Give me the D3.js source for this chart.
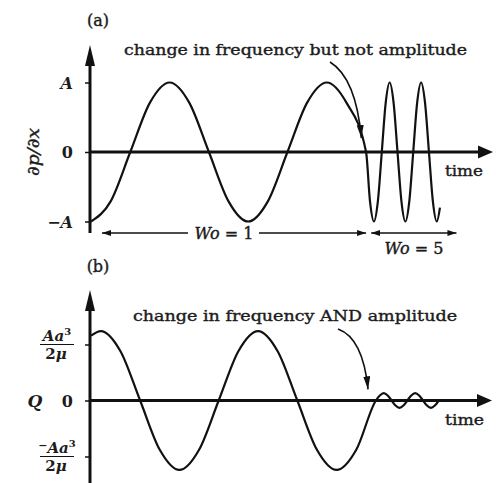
<!DOCTYPE html>
<html>
<head>
<meta charset="utf-8">
<script src="https://cdnjs.cloudflare.com/ajax/libs/d3/7.8.5/d3.min.js"></script>
<style>
  body { margin: 0; background: #fff; }
  svg { display: block; }
  text { font-family: "DejaVu Serif", serif; fill: #1c1c1c; }
  text.heavy { stroke: #1c1c1c; stroke-width: 0.4px; }
</style>
</head>
<body>
<svg width="496" height="483"></svg>
<script>
// (a) dp/dx : Wo = 1 for t in [0,7], then Wo = 5 (time in quarter periods of Wo = 1)
var timeA = [0, 0.5, 1, 1.5, 2, 2.5, 3, 3.5, 4, 4.5, 5, 5.5, 6, 6.5, 7,
  7.1, 7.2, 7.3, 7.4, 7.5, 7.6, 7.7, 7.8, 7.9, 8.0, 8.1, 8.2, 8.3, 8.4, 8.5, 8.6, 8.7, 8.8, 8.88];
var dpdx = [-1, -0.71, 0, 0.71, 1, 0.71, 0, -0.71, -1, -0.71, 0, 0.71, 1, 0.71, 0,
  -0.71, -1, -0.71, 0, 0.71, 1, 0.71, 0, -0.71, -1, -0.71, 0, 0.71, 1, 0.71, 0, -0.71, -1, -0.8];

// (b) Q : big swing, then small fast wiggle (units of Aa^3/2mu)
var timeB = [0, 0.25, 0.75, 1.25, 1.75, 2.25, 2.75, 3.25, 3.75, 4.25, 4.75, 5.25, 5.75, 6.25, 6.75, 7.25,
  7.35, 7.45, 7.55, 7.65, 7.75, 7.85, 7.95, 8.05, 8.15, 8.25, 8.35, 8.45, 8.55, 8.65, 8.75, 8.85];
var qVals = [1.16, 1.24, 0.88, 0, -0.88, -1.24, -0.88, 0, 0.88, 1.24, 0.88, 0, -0.88, -1.24, -0.88, 0,
  0.09, 0.13, 0.09, 0, -0.09, -0.13, -0.09, 0, 0.09, 0.13, 0.09, 0, -0.09, -0.13, -0.09, 0];

var ticksA = [1, 0, -1];
var tickLabelsA = ["A", "0", "\u2212A"];
var ticksB = [1, 0, -1];
var notes = ["change in frequency but not amplitude", "change in frequency AND amplitude"];
var spanLabels = ["Wo = 1", "Wo = 5"];
var spanTimes = [[0.28, 7.0], [7.13, 9.3]];

var svg = d3.select("svg");

var x = d3.scaleLinear().domain([0, 10.23]).range([91, 493]);
var yA = d3.scaleLinear().domain([-1, 1]).range([221.5, 82.5]);
var yB = d3.scaleLinear().domain([-1, 1]).range([456.5, 344.5]);

var defs = svg.append("defs");
defs.append("marker")
  .attr("id", "head")
  .attr("markerUnits", "userSpaceOnUse")
  .attr("markerWidth", 14).attr("markerHeight", 8)
  .attr("refX", 13).attr("refY", 3.5)
  .attr("orient", "auto")
  .append("path").attr("d", "M0,0 L13,3.5 L0,7 Z").attr("fill", "#111");
defs.append("marker")
  .attr("id", "dim")
  .attr("markerUnits", "userSpaceOnUse")
  .attr("markerWidth", 10).attr("markerHeight", 8)
  .attr("refX", 9).attr("refY", 3)
  .attr("orient", "auto-start-reverse")
  .append("path").attr("d", "M0,0 L9,3 L0,6 Z").attr("fill", "#111");

function drawAxes(y, yBottom, yTip, xTip) {
  var x0 = x(0) - 1;
  // vertical axis
  svg.append("line")
    .attr("x1", x0).attr("x2", x0)
    .attr("y1", yBottom).attr("y2", yTip + 16)
    .attr("stroke", "#111").attr("stroke-width", 3);
  svg.append("path")
    .attr("d", "M" + x0 + "," + yTip + " L" + (x0 - 5) + "," + (yTip + 21) + " L" + (x0 + 5) + "," + (yTip + 21) + " Z")
    .attr("fill", "#111");
  // horizontal axis
  var y0 = y(0);
  svg.append("line")
    .attr("x1", x0).attr("x2", xTip - 12)
    .attr("y1", y0).attr("y2", y0)
    .attr("stroke", "#111").attr("stroke-width", 3);
  svg.append("path")
    .attr("d", "M" + xTip + "," + y0 + " L" + (xTip - 15) + "," + (y0 - 6.5) + " L" + (xTip - 15) + "," + (y0 + 6.5) + " Z")
    .attr("fill", "#111");
}

function curve(times, vals, y) {
  var line = d3.line()
    .x(function (d, i) { return x(times[i]); })
    .y(function (d) { return y(d); })
    .curve(d3.curveMonotoneX);
  svg.append("path")
    .attr("d", line(vals))
    .attr("fill", "none")
    .attr("stroke", "#111")
    .attr("stroke-width", 2.2);
}

// ---------- panel (a)
svg.append("text").attr("class", "heavy").attr("x", 98).attr("y", 26).attr("text-anchor", "middle")
  .style("font-size", "16px").text("(a)");

drawAxes(yA, 233, 45, 493);

svg.append("g")
  .attr("transform", "translate(" + (x(0) - 1) + ",0)")
  .call(d3.axisLeft(yA).tickValues(ticksA).tickSize(5).tickFormat(""))
  .call(function (g) { g.select(".domain").remove(); })
  .selectAll("line").attr("stroke", "#111").attr("stroke-width", 1.5);

svg.selectAll(".lblA")
  .data(ticksA)
  .enter().append("text")
  .attr("class", "lblA")
  .attr("x", 73)
  .attr("y", function (d) { return yA(d) + 6; })
  .attr("text-anchor", "end")
  .style("font-size", "16px")
  .style("font-weight", "bold")
  .style("font-style", function (d, i) { return i === 1 ? "normal" : "italic"; })
  .text(function (d, i) { return tickLabelsA[i]; });

svg.append("text")
  .attr("class", "heavy")
  .attr("transform", "translate(39," + yA(0) + ") rotate(-90)")
  .attr("text-anchor", "middle")
  .attr("textLength", 48).attr("lengthAdjust", "spacingAndGlyphs")
  .style("font-size", "17px").style("font-style", "italic")
  .text("\u2202p/\u2202x");

curve(timeA, dpdx, yA);

svg.append("text").attr("class", "heavy").attr("x", 124).attr("y", 55)
  .attr("textLength", 343).attr("lengthAdjust", "spacingAndGlyphs")
  .style("font-size", "15.5px").text(notes[0]);

svg.append("path")
  .attr("d", "M330,62 Q356,78 " + x(6.88) + "," + yA(0.2))
  .attr("fill", "none").attr("stroke", "#111").attr("stroke-width", 1.6)
  .attr("marker-end", "url(#head)");

svg.append("text").attr("class", "heavy").attr("x", 445).attr("y", 176)
  .attr("textLength", 38).attr("lengthAdjust", "spacingAndGlyphs")
  .style("font-size", "15.5px").text("time");

// span arrows under panel (a)
var spanY = 233;
svg.append("line")
  .attr("x1", 188).attr("x2", x(spanTimes[0][0]))
  .attr("y1", spanY).attr("y2", spanY)
  .attr("stroke", "#111").attr("stroke-width", 1.3).attr("marker-end", "url(#dim)");
svg.append("line")
  .attr("x1", 259).attr("x2", x(spanTimes[0][1]))
  .attr("y1", spanY).attr("y2", spanY)
  .attr("stroke", "#111").attr("stroke-width", 1.3).attr("marker-end", "url(#dim)");
svg.append("line")
  .attr("x1", x(spanTimes[1][0])).attr("x2", x(spanTimes[1][1]))
  .attr("y1", spanY).attr("y2", spanY)
  .attr("stroke", "#111").attr("stroke-width", 1.3)
  .attr("marker-start", "url(#dim)").attr("marker-end", "url(#dim)");

function spanText(label, cx, cy) {
  var t = svg.append("text").attr("class", "heavy").attr("x", cx).attr("y", cy).attr("text-anchor", "middle")
    .style("font-size", "16px");
  var parts = label.split(" = ");
  t.append("tspan").style("font-style", "italic").text(parts[0]);
  t.append("tspan").text(" = " + parts[1]);
}
spanText(spanLabels[0], 224, 239);
spanText(spanLabels[1], 414, 254);

// ---------- panel (b)
svg.append("text").attr("class", "heavy").attr("x", 98).attr("y", 272).attr("text-anchor", "middle")
  .style("font-size", "16px").text("(b)");

drawAxes(yB, 483, 290, 492);

svg.append("g")
  .attr("transform", "translate(" + (x(0) - 1) + ",0)")
  .call(d3.axisLeft(yB).tickValues(ticksB).tickSize(5).tickFormat(""))
  .call(function (g) { g.select(".domain").remove(); })
  .selectAll("line").attr("stroke", "#111").attr("stroke-width", 1.5);

// fraction labels  Aa^3 / 2mu
function fraction(yv, neg) {
  var cy = yB(yv);
  var num = svg.append("text").attr("x", 57).attr("y", cy - 4).attr("text-anchor", "middle")
    .style("font-size", "15px").style("font-weight", "bold").style("font-style", "italic");
  if (neg) num.append("tspan").style("font-style", "normal").style("font-size", "11px").attr("dy", -4).text("\u2212");
  num.append("tspan").attr("dy", neg ? 4 : 0).text("Aa");
  num.append("tspan").style("font-size", "10px").style("font-style", "normal").attr("dy", -6).text("3");
  svg.append("line")
    .attr("x1", 40).attr("x2", 74).attr("y1", cy).attr("y2", cy)
    .attr("stroke", "#111").attr("stroke-width", 1.2);
  svg.append("text").attr("x", 56).attr("y", cy + 14).attr("text-anchor", "middle")
    .style("font-size", "15px").style("font-weight", "bold")
    .text("2").append("tspan").style("font-style", "italic").text("\u03bc");
}
fraction(ticksB[0], false);
fraction(ticksB[2], true);

svg.append("text").attr("x", 73).attr("y", yB(0) + 6).attr("text-anchor", "end")
  .style("font-size", "16px").style("font-weight", "bold").text("0");
svg.append("text").attr("x", 35).attr("y", yB(0) + 6).attr("text-anchor", "middle")
  .style("font-size", "17px").style("font-weight", "bold").style("font-style", "italic").text("Q");

curve(timeB, qVals, yB);

svg.append("text").attr("class", "heavy").attr("x", 133).attr("y", 321)
  .attr("textLength", 324).attr("lengthAdjust", "spacingAndGlyphs")
  .style("font-size", "15.5px").text(notes[1]);

svg.append("path")
  .attr("d", "M338,329 Q363,338 " + x(7.05) + "," + yB(0.2))
  .attr("fill", "none").attr("stroke", "#111").attr("stroke-width", 1.6)
  .attr("marker-end", "url(#head)");

svg.append("text").attr("class", "heavy").attr("x", 445).attr("y", 425)
  .attr("textLength", 39).attr("lengthAdjust", "spacingAndGlyphs")
  .style("font-size", "15.5px").text("time");
</script>
</body>
</html>
